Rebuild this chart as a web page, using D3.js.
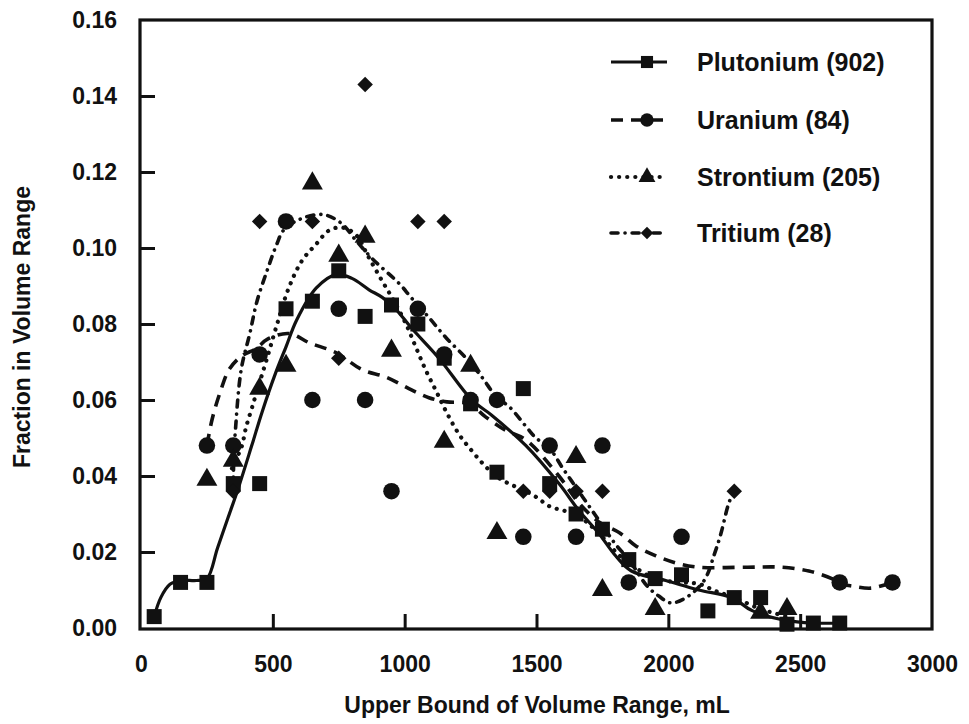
<!DOCTYPE html>
<html>
<head>
<meta charset="utf-8">
<script src="https://cdn.jsdelivr.net/npm/d3@7"></script>
<style>
  body { margin: 0; background: #fff; }
  svg { display: block; }
  text { font-family: "Liberation Sans", Arial, Helvetica, sans-serif; fill: #111; }
</style>
</head>
<body>
<svg id="chart" width="969" height="724"></svg>
<script>
// ---------------- DATA ----------------
const xTicks = [0, 500, 1000, 1500, 2000, 2500, 3000];
const yTicks = [0, 0.02, 0.04, 0.06, 0.08, 0.10, 0.12, 0.14, 0.16];
const seriesNames = ["Plutonium (902)", "Uranium (84)", "Strontium (205)", "Tritium (28)"];

// observed points [upper bound mL, fraction]
const plutoniumPoints = [[50,0.003],[150,0.012],[250,0.012],[350,0.038],[450,0.038],[550,0.084],[650,0.086],[750,0.094],[850,0.082],[950,0.085],[1050,0.080],[1150,0.071],[1250,0.059],[1350,0.041],[1450,0.063],[1550,0.038],[1650,0.030],[1750,0.026],[1850,0.018],[1950,0.013],[2050,0.014],[2150,0.0045],[2250,0.008],[2350,0.008],[2450,0.001],[2550,0.0013],[2650,0.0013]];
const uraniumPoints = [[250,0.048],[350,0.048],[450,0.072],[550,0.107],[650,0.060],[750,0.084],[850,0.060],[950,0.036],[1050,0.084],[1150,0.072],[1250,0.060],[1350,0.060],[1450,0.024],[1550,0.048],[1650,0.024],[1750,0.048],[1850,0.012],[2050,0.024],[2650,0.012],[2850,0.012]];
const strontiumPoints = [[250,0.039],[350,0.044],[450,0.063],[550,0.069],[650,0.117],[750,0.098],[850,0.103],[950,0.073],[1150,0.049],[1250,0.069],[1350,0.025],[1650,0.045],[1750,0.010],[1950,0.005],[2350,0.004],[2450,0.005]];
const tritiumPoints = [[350,0.036],[450,0.107],[550,0.107],[650,0.107],[750,0.071],[850,0.143],[1050,0.107],[1150,0.107],[1450,0.036],[1550,0.036],[1650,0.036],[1750,0.036],[2250,0.036]];

// smoothed fit curves
const plutoniumCurve = [[50,0.003],[75,0.008],[110,0.0115],[150,0.0125],[210,0.0125],[250,0.013],[290,0.021],[330,0.029],[370,0.037],[420,0.048],[460,0.057],[510,0.067],[550,0.074],[590,0.081],[665,0.0895],[740,0.093],[800,0.092],[865,0.089],[915,0.087],[965,0.084],[1025,0.079],[1130,0.071],[1255,0.060],[1330,0.056],[1460,0.048],[1585,0.038],[1660,0.031],[1735,0.025],[1800,0.019],[1860,0.015],[1990,0.0125],[2115,0.010],[2240,0.008],[2320,0.0045],[2445,0.002],[2550,0.0013],[2650,0.0013]];
const uraniumCurve = [[250,0.048],[270,0.055],[300,0.062],[334,0.068],[380,0.0715],[436,0.0735],[480,0.076],[561,0.0775],[640,0.075],[739,0.0725],[838,0.068],[930,0.066],[1016,0.063],[1092,0.0606],[1160,0.0595],[1244,0.059],[1308,0.0555],[1384,0.052],[1460,0.0495],[1585,0.040],[1660,0.033],[1735,0.028],[1816,0.025],[1877,0.0216],[1953,0.019],[2029,0.0171],[2116,0.016],[2300,0.016],[2430,0.016],[2533,0.015],[2620,0.013],[2650,0.0117],[2700,0.011],[2770,0.0105],[2850,0.012]];
const strontiumCurve = [[345,0.042],[365,0.045],[383,0.048],[398,0.0527],[421,0.058],[447,0.064],[478,0.071],[512,0.079],[561,0.0896],[611,0.0967],[664,0.101],[713,0.1046],[762,0.1054],[815,0.1035],[860,0.098],[914,0.0914],[960,0.086],[1005,0.080],[1043,0.0738],[1081,0.0677],[1119,0.0624],[1157,0.057],[1206,0.051],[1255,0.0466],[1300,0.043],[1346,0.040],[1395,0.038],[1445,0.0365],[1498,0.0345],[1550,0.032],[1597,0.031],[1650,0.030],[1688,0.028],[1726,0.0256],[1763,0.023],[1801,0.020],[1839,0.0177],[1877,0.0158],[1950,0.013],[2050,0.012],[2116,0.0116],[2180,0.0097],[2250,0.008],[2350,0.005],[2450,0.003]];
const tritiumCurve = [[350,0.036],[352,0.045],[358,0.052],[380,0.068],[413,0.0776],[440,0.086],[478,0.094],[515,0.101],[540,0.1046],[600,0.1075],[690,0.1088],[760,0.1065],[815,0.102],[880,0.097],[980,0.0906],[1024,0.087],[1092,0.0817],[1157,0.0764],[1232,0.0711],[1293,0.066],[1346,0.061],[1400,0.058],[1464,0.0527],[1498,0.050],[1547,0.0475],[1600,0.042],[1650,0.037],[1700,0.032],[1750,0.027],[1800,0.022],[1850,0.018],[1920,0.011],[1964,0.0084],[2010,0.0066],[2067,0.008],[2135,0.0124],[2175,0.0195],[2200,0.025],[2230,0.033],[2250,0.036]];

// ---------------- CHART ----------------
const svg = d3.select("#chart");
const ink = "#111";
const x = d3.scaleLinear().domain([0, 3000]).range([141, 932]);
const y = d3.scaleLinear().domain([0, 0.16]).range([628, 20]);

const styles = [
  { points: plutoniumPoints, curve: plutoniumCurve, sym: "square", dash: null, width: 3.2, cap: "butt" },
  { points: uraniumPoints, curve: uraniumCurve, sym: "circle", dash: "12,8", width: 3.6, cap: "butt" },
  { points: strontiumPoints, curve: strontiumCurve, sym: "triangle", dash: "0.1,8", width: 4.2, cap: "round" },
  { points: tritiumPoints, curve: tritiumCurve, sym: "diamond", dash: "7,7,0.1,7", width: 3.6, cap: "round" }
];

function symbolPath(kind, scale) {
  if (kind === "square") return d3.symbol().type(d3.symbolSquare).size(225 * scale)();
  if (kind === "circle") return d3.symbol().type(d3.symbolCircle).size(215 * scale)();
  if (kind === "triangle") return d3.symbol().type(d3.symbolTriangle).size(190 * scale)();
  return d3.symbol().type(d3.symbolSquare).size(120 * scale)();
}

// axes
const yAxis = d3.axisLeft(y).tickValues(yTicks).tickFormat(d3.format(".2f")).tickSize(-15).tickPadding(23);
const gy = svg.append("g").attr("transform", "translate(140,0)").call(yAxis);
gy.select(".domain").remove();
gy.selectAll(".tick line").attr("stroke", ink).attr("stroke-width", 3)
  .filter(d => d === 0 || d === 0.16).remove();
gy.selectAll(".tick text").attr("font-size", 23).attr("font-weight", "bold").attr("fill", ink);

const xAxis = d3.axisBottom(x).tickValues(xTicks).tickFormat(d3.format("d")).tickSize(-15).tickPadding(27);
const gx = svg.append("g").attr("transform", "translate(0,629)").call(xAxis);
gx.select(".domain").remove();
gx.selectAll(".tick line").attr("stroke", ink).attr("stroke-width", 3)
  .filter(d => d === 0 || d === 3000).remove();
gx.selectAll(".tick text").attr("font-size", 23).attr("font-weight", "bold").attr("fill", ink);

// frame
svg.append("rect").attr("x", 140).attr("y", 20).attr("width", 792).attr("height", 609)
  .attr("fill", "none").attr("stroke", ink).attr("stroke-width", 3.2);

// titles
svg.append("text").attr("x", 537).attr("y", 713).attr("text-anchor", "middle")
  .attr("font-size", 23).attr("font-weight", "bold").text("Upper Bound of Volume Range, mL");
svg.append("text").attr("transform", "translate(30,327) rotate(-90)").attr("text-anchor", "middle")
  .attr("font-size", 23).attr("font-weight", "bold").text("Fraction in Volume Range");

// curves
const line = d3.line().x(d => x(d[0])).y(d => y(d[1])).curve(d3.curveCatmullRom.alpha(0.5));
styles.forEach(s => {
  svg.append("path").datum(s.curve).attr("d", line)
    .attr("fill", "none").attr("stroke", ink).attr("stroke-width", s.width)
    .attr("stroke-dasharray", s.dash).attr("stroke-linecap", s.cap).attr("stroke-linejoin", "round");
});

// markers
styles.forEach(s => {
  svg.append("g").selectAll("path").data(s.points).join("path")
    .attr("d", symbolPath(s.sym, 1))
    .attr("transform", d => `translate(${x(d[0])},${y(d[1])})` + (s.sym === "diamond" ? " rotate(45)" : ""))
    .attr("fill", ink);
});

// legend
const legendRows = [62, 120, 177, 233];
styles.forEach((s, i) => {
  const gy0 = legendRows[i];
  const g = svg.append("g");
  g.append("line").attr("x1", 611).attr("x2", 667).attr("y1", gy0).attr("y2", gy0)
    .attr("stroke", ink).attr("stroke-width", s.width)
    .attr("stroke-dasharray", s.dash).attr("stroke-linecap", s.cap);
  g.append("path").attr("d", symbolPath(s.sym, 0.65))
    .attr("transform", `translate(647,${gy0})` + (s.sym === "diamond" ? " rotate(45)" : ""))
    .attr("fill", ink);
  g.append("text").attr("x", 697).attr("y", gy0).attr("dy", "0.36em")
    .attr("font-size", 25).attr("font-weight", "bold").text(seriesNames[i]);
});
</script>
</body>
</html>
